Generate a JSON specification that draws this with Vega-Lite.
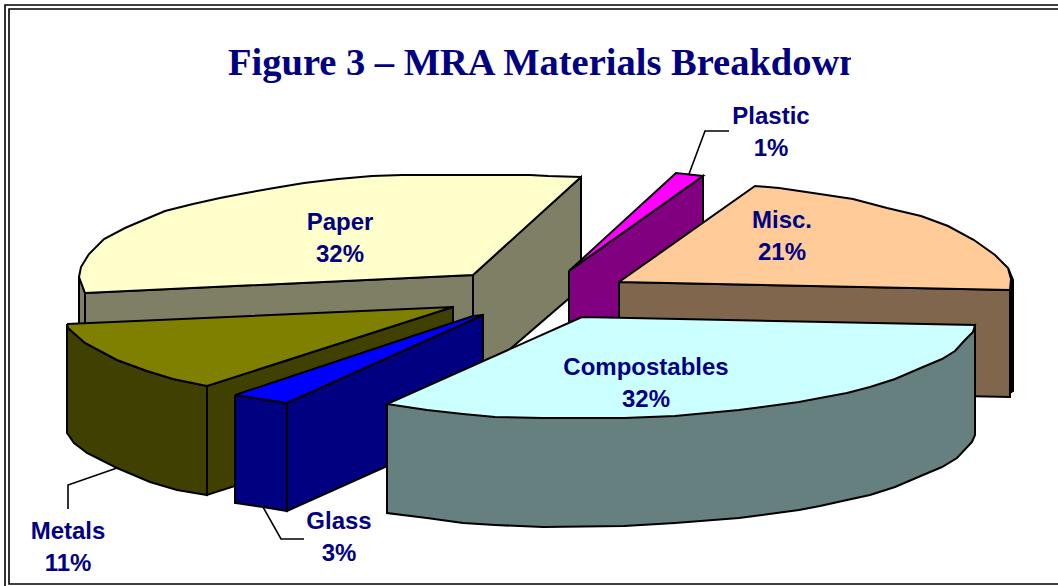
{"$schema":"https://vega.github.io/schema/vega-lite/v6.json","width":1058,"height":586,"autosize":"none","background":"white","padding":0,"config":{"view":{"stroke":null}},
"datasets":{"faces":[
{"p":"paperEdge","i":0,"x":79,"y":276},{"p":"paperEdge","i":1,"x":85,"y":293},{"p":"paperEdge","i":2,"x":85,"y":340},{"p":"paperEdge","i":3,"x":79,"y":340},{"p":"paperEdge","i":4,"x":79,"y":276},
{"p":"paperFront","i":0,"x":85,"y":293},{"p":"paperFront","i":1,"x":473,"y":275},{"p":"paperFront","i":2,"x":473,"y":381},{"p":"paperFront","i":3,"x":85,"y":400},{"p":"paperFront","i":4,"x":85,"y":293},
{"p":"paperRight","i":0,"x":473,"y":275},{"p":"paperRight","i":1,"x":581,"y":177},{"p":"paperRight","i":2,"x":581,"y":288},{"p":"paperRight","i":3,"x":473,"y":381},{"p":"paperRight","i":4,"x":473,"y":275},
{"p":"paperTop","i":0,"x":581,"y":177},{"p":"paperTop","i":1,"x":473,"y":275},{"p":"paperTop","i":2,"x":85,"y":293},{"p":"paperTop","i":3,"x":79,"y":277},{"p":"paperTop","i":4,"x":81,"y":267},{"p":"paperTop","i":5,"x":89,"y":254},{"p":"paperTop","i":6,"x":104,"y":239},{"p":"paperTop","i":7,"x":125,"y":228},{"p":"paperTop","i":8,"x":139,"y":222},{"p":"paperTop","i":9,"x":165,"y":211},{"p":"paperTop","i":10,"x":193,"y":204},{"p":"paperTop","i":11,"x":220,"y":198},{"p":"paperTop","i":12,"x":246,"y":193},{"p":"paperTop","i":13,"x":274,"y":188},{"p":"paperTop","i":14,"x":304,"y":183},{"p":"paperTop","i":15,"x":338,"y":179},{"p":"paperTop","i":16,"x":372,"y":176},{"p":"paperTop","i":17,"x":402,"y":175},{"p":"paperTop","i":18,"x":530,"y":175},{"p":"paperTop","i":19,"x":548,"y":176},{"p":"paperTop","i":20,"x":581,"y":177},
{"p":"plasticSide","i":0,"x":569,"y":271},{"p":"plasticSide","i":1,"x":703,"y":176},{"p":"plasticSide","i":2,"x":703,"y":284},{"p":"plasticSide","i":3,"x":569,"y":379},{"p":"plasticSide","i":4,"x":569,"y":271},
{"p":"plasticTop","i":0,"x":569,"y":271},{"p":"plasticTop","i":1,"x":676,"y":173},{"p":"plasticTop","i":2,"x":703,"y":176},{"p":"plasticTop","i":3,"x":569,"y":271},
{"p":"miscEdge","i":0,"x":1008,"y":268},{"p":"miscEdge","i":1,"x":1013,"y":280},{"p":"miscEdge","i":2,"x":1013,"y":391},{"p":"miscEdge","i":3,"x":1008,"y":394},{"p":"miscEdge","i":4,"x":1008,"y":268},
{"p":"miscFront","i":0,"x":619,"y":282},{"p":"miscFront","i":1,"x":1010,"y":290},{"p":"miscFront","i":2,"x":1010,"y":397},{"p":"miscFront","i":3,"x":619,"y":389},{"p":"miscFront","i":4,"x":619,"y":282},
{"p":"miscTop","i":0,"x":619,"y":282},{"p":"miscTop","i":1,"x":755,"y":186},{"p":"miscTop","i":2,"x":779,"y":188},{"p":"miscTop","i":3,"x":813,"y":193},{"p":"miscTop","i":4,"x":853,"y":199},{"p":"miscTop","i":5,"x":887,"y":208},{"p":"miscTop","i":6,"x":921,"y":216},{"p":"miscTop","i":7,"x":948,"y":226},{"p":"miscTop","i":8,"x":974,"y":240},{"p":"miscTop","i":9,"x":995,"y":255},{"p":"miscTop","i":10,"x":1008,"y":268},{"p":"miscTop","i":11,"x":1011,"y":279},{"p":"miscTop","i":12,"x":1010,"y":290},{"p":"miscTop","i":13,"x":619,"y":282},
{"p":"metalsInner","i":0,"x":207,"y":386},{"p":"metalsInner","i":1,"x":453,"y":307},{"p":"metalsInner","i":2,"x":453,"y":416},{"p":"metalsInner","i":3,"x":207,"y":495},{"p":"metalsInner","i":4,"x":207,"y":386},
{"p":"metalsFront","i":0,"x":67,"y":324},{"p":"metalsFront","i":1,"x":68,"y":328},{"p":"metalsFront","i":2,"x":85,"y":343},{"p":"metalsFront","i":3,"x":117,"y":360},{"p":"metalsFront","i":4,"x":147,"y":371},{"p":"metalsFront","i":5,"x":173,"y":379},{"p":"metalsFront","i":6,"x":207,"y":386},{"p":"metalsFront","i":7,"x":207,"y":495},{"p":"metalsFront","i":8,"x":177,"y":490},{"p":"metalsFront","i":9,"x":150,"y":482},{"p":"metalsFront","i":10,"x":117,"y":468},{"p":"metalsFront","i":11,"x":87,"y":453},{"p":"metalsFront","i":12,"x":74,"y":443},{"p":"metalsFront","i":13,"x":67,"y":433},{"p":"metalsFront","i":14,"x":67,"y":324},
{"p":"metalsTop","i":0,"x":67,"y":324},{"p":"metalsTop","i":1,"x":453,"y":307},{"p":"metalsTop","i":2,"x":207,"y":386},{"p":"metalsTop","i":3,"x":173,"y":379},{"p":"metalsTop","i":4,"x":147,"y":371},{"p":"metalsTop","i":5,"x":117,"y":360},{"p":"metalsTop","i":6,"x":85,"y":343},{"p":"metalsTop","i":7,"x":68,"y":328},{"p":"metalsTop","i":8,"x":67,"y":324},
{"p":"glassRight","i":0,"x":287,"y":403},{"p":"glassRight","i":1,"x":483,"y":315},{"p":"glassRight","i":2,"x":483,"y":423},{"p":"glassRight","i":3,"x":287,"y":511},{"p":"glassRight","i":4,"x":287,"y":403},
{"p":"glassFront","i":0,"x":235,"y":395},{"p":"glassFront","i":1,"x":287,"y":403},{"p":"glassFront","i":2,"x":287,"y":511},{"p":"glassFront","i":3,"x":263,"y":507},{"p":"glassFront","i":4,"x":235,"y":503},{"p":"glassFront","i":5,"x":235,"y":395},
{"p":"glassTop","i":0,"x":235,"y":395},{"p":"glassTop","i":1,"x":473,"y":316},{"p":"glassTop","i":2,"x":483,"y":315},{"p":"glassTop","i":3,"x":287,"y":403},{"p":"glassTop","i":4,"x":235,"y":395},
{"p":"compostSide","i":0,"x":387,"y":404},{"p":"compostSide","i":1,"x":975,"y":325},{"p":"compostSide","i":2,"x":975,"y":435},{"p":"compostSide","i":3,"x":972,"y":442},{"p":"compostSide","i":4,"x":957,"y":458},{"p":"compostSide","i":5,"x":942,"y":467},{"p":"compostSide","i":6,"x":923,"y":475},{"p":"compostSide","i":7,"x":895,"y":487},{"p":"compostSide","i":8,"x":870,"y":495},{"p":"compostSide","i":9,"x":847,"y":500},{"p":"compostSide","i":10,"x":820,"y":506},{"p":"compostSide","i":11,"x":799,"y":510},{"p":"compostSide","i":12,"x":739,"y":518},{"p":"compostSide","i":13,"x":675,"y":523},{"p":"compostSide","i":14,"x":624,"y":526},{"p":"compostSide","i":15,"x":543,"y":527},{"p":"compostSide","i":16,"x":495,"y":525},{"p":"compostSide","i":17,"x":463,"y":523},{"p":"compostSide","i":18,"x":427,"y":518},{"p":"compostSide","i":19,"x":387,"y":513},{"p":"compostSide","i":20,"x":387,"y":404},
{"p":"compostTop","i":0,"x":582,"y":317},{"p":"compostTop","i":1,"x":975,"y":325},{"p":"compostTop","i":2,"x":973,"y":332},{"p":"compostTop","i":3,"x":965,"y":340},{"p":"compostTop","i":4,"x":955,"y":351},{"p":"compostTop","i":5,"x":942,"y":359},{"p":"compostTop","i":6,"x":923,"y":367},{"p":"compostTop","i":7,"x":895,"y":379},{"p":"compostTop","i":8,"x":870,"y":387},{"p":"compostTop","i":9,"x":847,"y":393},{"p":"compostTop","i":10,"x":820,"y":398},{"p":"compostTop","i":11,"x":799,"y":402},{"p":"compostTop","i":12,"x":739,"y":410},{"p":"compostTop","i":13,"x":675,"y":416},{"p":"compostTop","i":14,"x":624,"y":418},{"p":"compostTop","i":15,"x":543,"y":418},{"p":"compostTop","i":16,"x":495,"y":417},{"p":"compostTop","i":17,"x":463,"y":414},{"p":"compostTop","i":18,"x":427,"y":410},{"p":"compostTop","i":19,"x":387,"y":404},{"p":"compostTop","i":20,"x":582,"y":317}
],
"strokes":[
{"p":"frameOuter","i":0,"x":5,"y":586},{"p":"frameOuter","i":1,"x":5,"y":5},{"p":"frameOuter","i":2,"x":1058,"y":5},
{"p":"frameInner","i":0,"x":1058,"y":9},{"p":"frameInner","i":1,"x":9,"y":9},{"p":"frameInner","i":2,"x":9,"y":584},{"p":"frameInner","i":3,"x":1058,"y":584},
{"p":"leadPlastic","i":0,"x":689,"y":174},{"p":"leadPlastic","i":1,"x":705,"y":131},{"p":"leadPlastic","i":2,"x":729,"y":131},
{"p":"leadMetals","i":0,"x":117,"y":468},{"p":"leadMetals","i":1,"x":68,"y":485},{"p":"leadMetals","i":2,"x":68,"y":509},
{"p":"leadGlass","i":0,"x":263,"y":507},{"p":"leadGlass","i":1,"x":281,"y":539},{"p":"leadGlass","i":2,"x":304,"y":539}
],
"slices":[
{"name":"Paper","share":32,"lx":340,"ly":223},
{"name":"Plastic","share":1,"lx":771,"ly":117},
{"name":"Misc.","share":21,"lx":782,"ly":221},
{"name":"Compostables","share":32,"lx":646,"ly":368},
{"name":"Metals","share":11,"lx":68,"ly":532},
{"name":"Glass","share":3,"lx":339,"ly":522}
],
"titleRow":[{"t":"Figure 3 – MRA Materials Breakdown","x":228,"y":63}],
"clip":[{"p":"clip","i":0,"x":851,"y":35},{"p":"clip","i":1,"x":930,"y":35},{"p":"clip","i":2,"x":930,"y":90},{"p":"clip","i":3,"x":851,"y":90},{"p":"clip","i":4,"x":851,"y":35}]
},
"layer":[
{"data":{"name":"faces"},"mark":{"type":"line","stroke":"black","strokeWidth":2,"strokeJoin":"miter","interpolate":"linear"},
"encoding":{"x":{"field":"x","type":"quantitative","scale":{"domain":[0,1058],"nice":false,"zero":false},"axis":null},"y":{"field":"y","type":"quantitative","scale":{"domain":[586,0],"nice":false,"zero":false},"axis":null},"detail":{"field":"p"},"order":{"field":"i","type":"quantitative"},
"fill":{"field":"p","type":"nominal","legend":null,"scale":{"domain":["paperEdge","paperFront","paperRight","paperTop","plasticSide","plasticTop","miscEdge","miscFront","miscTop","metalsInner","metalsFront","metalsTop","glassRight","glassFront","glassTop","compostSide","compostTop"],"range":["#7F7F66","#7F7F66","#7F7F66","#FFFFCC","#800080","#FF00FF","#000000","#7F664C","#FFCC99","#404000","#404000","#808000","#000080","#000080","#0000FF","#667F7F","#CCFFFF"]}}}},
{"data":{"name":"strokes"},"mark":{"type":"line","stroke":"black","strokeWidth":1.6,"strokeJoin":"miter"},
"encoding":{"x":{"field":"x","type":"quantitative"},"y":{"field":"y","type":"quantitative"},"detail":{"field":"p"},"order":{"field":"i","type":"quantitative"}}},
{"data":{"name":"titleRow"},"mark":{"type":"text","align":"left","baseline":"middle","font":"Liberation Serif","fontWeight":"bold","fontSize":38.5,"fill":"#000080"},
"encoding":{"x":{"field":"x","type":"quantitative"},"y":{"field":"y","type":"quantitative"},"text":{"field":"t"}}},
{"data":{"name":"clip"},"mark":{"type":"line","stroke":"white","strokeWidth":0},
"encoding":{"x":{"field":"x","type":"quantitative"},"y":{"field":"y","type":"quantitative"},"order":{"field":"i","type":"quantitative"},"fill":{"value":"white"}}},
{"data":{"name":"slices"},"transform":[{"calculate":"datum.name + '\\n' + datum.share + '%'","as":"label"}],
"mark":{"type":"text","align":"center","baseline":"middle","font":"Liberation Sans","fontWeight":"bold","fontSize":24,"lineBreak":"\n","lineHeight":32,"fill":"#000080"},
"encoding":{"x":{"field":"lx","type":"quantitative"},"y":{"field":"ly","type":"quantitative"},"text":{"field":"label"}}}
]}
